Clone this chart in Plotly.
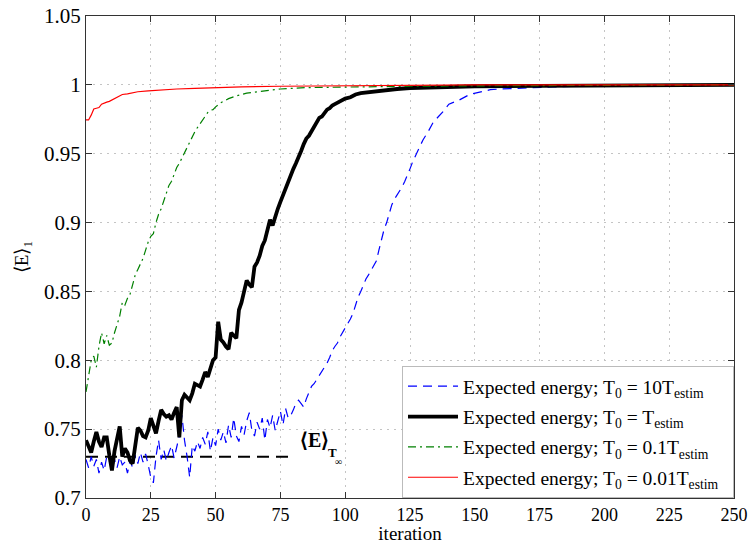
import plotly.graph_objects as go

# ---------------- data ----------------
blue_x = list(range(0, 131)) + [132, 134, 136, 138, 140, 144, 148, 152, 156, 160, 170, 180, 190, 200, 220, 250]
blue_y = [
    0.728, 0.722, 0.730, 0.723, 0.728, 0.718, 0.726, 0.720, 0.730, 0.727,
    0.720, 0.728, 0.722, 0.730, 0.724, 0.726, 0.718, 0.727, 0.722, 0.731,
    0.725, 0.733, 0.726, 0.732, 0.724, 0.715, 0.711, 0.730, 0.742, 0.728,
    0.735, 0.727, 0.733, 0.738, 0.729, 0.736, 0.745, 0.760, 0.742, 0.730,
    0.715, 0.738, 0.734, 0.741, 0.736, 0.744, 0.739, 0.748, 0.734, 0.744,
    0.738, 0.750, 0.742, 0.748, 0.740, 0.753, 0.744, 0.758, 0.745, 0.741,
    0.752, 0.746, 0.756, 0.762, 0.749, 0.745, 0.755, 0.750, 0.758, 0.742,
    0.757, 0.751, 0.760, 0.749, 0.757, 0.763, 0.753, 0.765, 0.758, 0.760,
    0.764, 0.769, 0.771, 0.768, 0.766, 0.772, 0.777, 0.781, 0.783, 0.786,
    0.788, 0.792, 0.795, 0.798, 0.802, 0.807, 0.810, 0.8125, 0.817, 0.820,
    0.823, 0.826, 0.830, 0.834, 0.840, 0.846, 0.850, 0.855, 0.859, 0.862,
    0.865, 0.869, 0.872, 0.880, 0.888, 0.895, 0.900, 0.907, 0.913, 0.917,
    0.920, 0.922, 0.926, 0.930, 0.934, 0.939, 0.944, 0.948, 0.952, 0.956,
    0.960,
    0.966, 0.973, 0.977, 0.981, 0.986, 0.989, 0.993, 0.995, 0.9965, 0.997,
    0.998, 0.9985, 0.999, 0.9993, 0.9996, 1.000,
]

black_x = list(range(0, 101)) + [102, 104, 106, 110, 115, 120, 125, 130, 140, 150, 175, 200, 225, 250]
black_y = [
    0.742, 0.738, 0.733, 0.741, 0.748, 0.741, 0.737, 0.744, 0.744, 0.731,
    0.720, 0.734, 0.744, 0.752, 0.730, 0.736, 0.733, 0.727, 0.725, 0.740,
    0.751, 0.749, 0.745, 0.744, 0.749, 0.758, 0.752, 0.747, 0.756, 0.764,
    0.761, 0.759, 0.760, 0.757, 0.762, 0.766, 0.744, 0.771, 0.775, 0.773,
    0.771, 0.776, 0.783, 0.782, 0.781, 0.786, 0.7915, 0.788, 0.795, 0.800,
    0.802, 0.828, 0.815, 0.813, 0.810, 0.808, 0.820, 0.818, 0.816, 0.8365,
    0.842, 0.850, 0.858, 0.855, 0.853, 0.868, 0.871, 0.876, 0.883, 0.887,
    0.895, 0.902, 0.898, 0.905, 0.910, 0.915, 0.920, 0.925, 0.929, 0.934,
    0.939, 0.943, 0.947, 0.952, 0.957, 0.961, 0.963, 0.966, 0.969, 0.972,
    0.976, 0.977, 0.980, 0.982, 0.983, 0.985, 0.986, 0.987, 0.988, 0.989,
    0.990,
    0.991, 0.993, 0.994, 0.995, 0.9963, 0.997, 0.9977, 0.998, 0.9985, 0.999,
    0.9993, 0.9996, 0.9998, 1.000,
]

green_x = list(range(0, 51)) + [52, 55, 58, 62, 66, 70, 75, 85, 100, 125, 150, 175, 200, 250]
green_y = [
    0.777, 0.790, 0.800, 0.803, 0.795, 0.810, 0.820, 0.812, 0.818, 0.811,
    0.8125, 0.820, 0.826, 0.832, 0.842, 0.840, 0.845, 0.848, 0.855, 0.862,
    0.866, 0.870, 0.874, 0.880, 0.886, 0.890, 0.892, 0.900, 0.906, 0.910,
    0.916, 0.922, 0.927, 0.930, 0.935, 0.940, 0.943, 0.947, 0.951, 0.955,
    0.958, 0.962, 0.966, 0.969, 0.972, 0.975, 0.978, 0.980, 0.9815, 0.982,
    0.984,
    0.987, 0.990, 0.992, 0.994, 0.995, 0.996, 0.997, 0.998, 0.9985, 0.999,
    0.9993, 0.9996, 0.9998, 1.000,
]

red_x = [0, 1, 2, 3, 4, 5, 6, 7, 8, 9, 10, 11, 12, 13, 14, 16, 18, 20, 24, 28,
         35, 42, 50, 60, 75, 100, 125, 150, 200, 250]
red_y = [0.9745, 0.9745, 0.978, 0.9825, 0.983, 0.9835, 0.986, 0.987, 0.9875, 0.988,
         0.989, 0.990, 0.991, 0.9925, 0.993, 0.9935, 0.9945, 0.995, 0.9957, 0.9963,
         0.997, 0.9975, 0.998, 0.9985, 0.999, 0.9995, 0.9998, 1.000, 1.000, 1.000]

einf_x = [0, 78]
einf_y = [0.73, 0.73]

PAD = "\u00a0\u00a0"
series_names = [
    "Expected energy; T<sub>0</sub> = 10T<sub>estim</sub>" + PAD,
    "Expected energy; T<sub>0</sub> = T<sub>estim</sub>" + PAD,
    "Expected energy; T<sub>0</sub> = 0.1T<sub>estim</sub>" + PAD,
    "Expected energy; T<sub>0</sub> = 0.01T<sub>estim</sub>" + PAD,
]

x_ticks = list(range(0, 251, 25))
y_ticks = [0.7, 0.75, 0.8, 0.85, 0.9, 0.95, 1.0, 1.05]
y_tick_text = ["0.7", "0.75", "0.8", "0.85", "0.9", "0.95", "1", "1.05"]

FONT = "Liberation Serif"

fig = go.Figure()

fig.add_trace(go.Scatter(x=einf_x, y=einf_y, mode="lines", showlegend=False,
                         line=dict(color="black", width=2, dash="12px,7px")))
fig.add_trace(go.Scatter(x=blue_x, y=blue_y, mode="lines", name=series_names[0], legendgroup="a",
                         line=dict(color="#0000ff", width=1.2, dash="9px,6px")))
fig.add_trace(go.Scatter(x=black_x, y=black_y, mode="lines", name=series_names[1], legendgroup="b",
                         line=dict(color="black", width=3.8)))
fig.add_trace(go.Scatter(x=green_x, y=green_y, mode="lines", name=series_names[2], legendgroup="c",
                         line=dict(color="#008000", width=1.2, dash="8px,4px,2px,4px")))
fig.add_trace(go.Scatter(x=red_x, y=red_y, mode="lines", name=series_names[3], legendgroup="d",
                         line=dict(color="#ff0000", width=1.2)))

axis_common = dict(
    showline=True, linecolor="#333333", linewidth=1, mirror="ticks",
    ticks="inside", ticklen=6, tickcolor="#333333",
    showgrid=True, gridcolor="#c4c4c4", gridwidth=1, griddash="2px,5px",
    zeroline=False, automargin=False, ticklabeloverflow="allow",
)

fig.update_layout(
    width=749, height=544,
    margin=dict(l=86, r=15, t=16, b=46),
    paper_bgcolor="white", plot_bgcolor="white",
    font=dict(family=FONT, size=18, color="black"),
    xaxis=dict(range=[0, 250], tickvals=x_ticks,
               tickfont=dict(family=FONT, size=18, color="black"),
               title=dict(text="iteration", font=dict(family=FONT, size=19), standoff=0),
               **axis_common),
    yaxis=dict(range=[0.7, 1.05], tickvals=y_ticks, ticktext=y_tick_text,
               tickfont=dict(family=FONT, size=21, color="black"),
               title=dict(text="⟨E⟩<sub>1</sub>", font=dict(family=FONT, size=19), standoff=10),
               **axis_common),
    legend=dict(x=1, y=0, xanchor="right", yanchor="bottom",
                bgcolor="white", bordercolor="#bbbbbb", borderwidth=1,
                font=dict(family=FONT, size=19.5, color="black"),
                itemwidth=50, tracegroupgap=2),
    annotations=[
        dict(x=81.8, y=0.742, xref="x", yref="y", text="<b>⟨E⟩</b>", showarrow=False,
             xanchor="left", yanchor="middle", font=dict(family=FONT, size=20, color="black")),
        dict(x=95.0, y=0.7334, xref="x", yref="y", text="<b>T</b>", showarrow=False,
             xanchor="center", yanchor="middle", font=dict(family=FONT, size=13, color="black")),
        dict(x=97.5, y=0.7262, xref="x", yref="y", text="∞", showarrow=False,
             xanchor="center", yanchor="middle", font=dict(family=FONT, size=10, color="black")),
    ],
)

fig.write_html(
    "out.html",
    config={"displayModeBar": False},
    post_script="document.body.style.margin='0';document.body.style.overflow='hidden';",
)
